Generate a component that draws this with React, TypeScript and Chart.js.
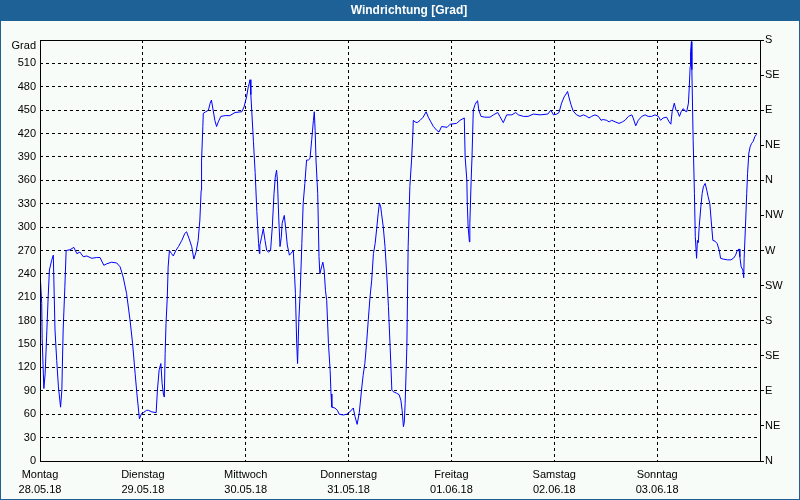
import React, { useEffect, useRef } from "react";
import { Chart, registerables } from "chart.js";

Chart.register(...registerables);

const TITLE = "Windrichtung [Grad]";
const UNIT_LABEL = "Grad";
const dayNames = ["Montag", "Dienstag", "Mittwoch", "Donnerstag", "Freitag", "Samstag", "Sonntag"];
const dayDates = ["28.05.18", "29.05.18", "30.05.18", "31.05.18", "01.06.18", "02.06.18", "03.06.18"];
const compassLabels = ["N", "NE", "E", "SE", "S", "SW", "W", "NW", "N", "NE", "E", "SE", "S"];

// hours since Monday 28.05.18 00:00
const hours = [
  0.0, 0.4, 0.5, 0.9, 1.2, 1.6, 1.9, 2.2, 2.7, 3.1, 3.5, 3.9, 4.3, 4.8, 5.1, 5.4, 5.8, 6.1, 7.0, 7.9,
  8.6, 9.3, 10.1, 10.9, 12.1, 13.2, 14.0, 14.9, 15.6, 16.7, 17.9, 18.7, 19.4, 20.2, 21.0, 21.6, 22.2, 22.6, 23.2, 23.7,
  24.1, 24.9, 25.3, 26.1, 27.1, 27.4, 27.8, 28.2, 28.5, 28.8, 29.0, 29.2, 29.4, 29.7, 29.9, 30.2, 30.7, 31.1, 31.7, 32.3,
  33.1, 33.8, 34.2, 34.8, 35.4, 35.9, 36.4, 36.9, 37.3, 37.6, 37.7, 38.0, 38.1, 38.7, 39.3, 39.7, 40.0, 40.4, 40.8, 41.2,
  41.6, 42.2, 43.2, 44.3, 45.5, 47.1, 47.6, 48.2, 48.6, 48.8, 49.0, 49.2, 49.4, 49.8, 50.2, 50.6, 51.0, 51.2, 51.3, 51.7,
  52.1, 52.5, 52.9, 53.3, 53.8, 54.2, 54.6, 54.9, 55.2, 55.4, 55.7, 56.0, 56.3, 56.5, 57.0, 57.3, 57.7, 58.2, 58.5, 59.1,
  59.3, 59.6, 59.9, 60.1, 60.4, 60.7, 61.1, 61.4, 61.8, 62.2, 62.6, 63.0, 63.4, 63.8, 64.0, 64.2, 64.4, 64.8, 65.1, 65.3,
  65.7, 66.0, 66.3, 66.6, 66.9, 67.3, 67.7, 67.9, 68.1, 68.8, 69.4, 69.8, 70.8, 71.6, 72.3, 73.1, 73.5, 74.0, 74.5, 75.1,
  75.4, 75.8, 76.2, 76.6, 77.0, 77.4, 77.8, 78.2, 78.6, 78.9, 79.2, 79.5, 79.7, 80.1, 80.5, 80.9, 81.3, 81.7, 82.1, 82.4,
  83.2, 83.8, 84.2, 84.5, 84.8, 85.0, 85.2, 85.6, 85.9, 86.3, 86.7, 87.0, 87.1, 87.5, 88.0, 88.7, 89.4, 90.1, 90.6, 91.2,
  91.8, 92.6, 93.1, 93.7, 95.0, 95.7, 97.2, 98.0, 99.0, 99.2, 99.6, 99.7, 99.9, 100.2, 100.3, 100.6, 100.8, 101.1, 101.5, 101.9,
  102.1, 102.4, 102.9, 103.8, 105.0, 105.8, 106.8, 107.3, 108.1, 108.9, 110.1, 111.0, 111.6, 112.8, 113.9, 115.1, 116.7, 118.5, 119.2, 119.8,
  120.6, 121.1, 121.7, 122.3, 122.9, 123.1, 123.4, 123.9, 124.4, 125.2, 126.0, 126.8, 127.6, 128.1, 128.7, 129.5, 130.3, 130.9, 131.4, 132.2,
  132.8, 133.4, 134.2, 135.1, 135.9, 136.5, 137.3, 138.1, 138.4, 139.0, 139.6, 140.4, 141.2, 141.9, 142.7, 143.5, 144.3, 144.8, 145.4, 146.2,
  146.8, 147.2, 147.5, 148.0, 148.4, 148.8, 149.2, 149.6, 150.1, 150.5, 150.9, 151.3, 151.5, 151.7, 151.8, 152.0, 152.1, 152.4, 152.7, 152.9,
  153.2, 153.4, 153.6, 153.8, 154.2, 154.5, 154.8, 155.2, 155.6, 155.9, 156.3, 156.6, 157.0, 157.5, 158.0, 158.5, 158.8, 159.4, 160.4, 161.2,
  161.8, 162.3, 162.7, 163.1, 163.3, 163.6, 164.0, 164.2, 164.3, 164.6, 164.9, 165.1, 165.4, 165.7, 166.0, 166.4, 166.8, 167.2,
];

const degrees = [
  243, 202, 157, 93, 112, 167, 210, 245, 257, 264, 168, 129, 95, 69, 91, 168, 223, 270, 271, 274,
  266, 268, 262, 263, 260, 261, 261, 251, 253, 255, 254, 249, 236, 215, 181, 151, 112, 87, 54, 61,
  62, 65, 65, 63, 62, 91, 117, 125, 99, 86, 82, 138, 176, 210, 249, 270, 266, 263, 270, 275,
  283, 292, 294, 285, 275, 259, 268, 283, 309, 347, 386, 429, 446, 448, 450, 459, 463, 450, 437, 429,
  435, 442, 443, 443, 447, 448, 454, 467, 480, 484, 489, 470, 450, 410, 370, 320, 279, 266, 277, 287,
  298, 283, 270, 268, 270, 300, 343, 364, 373, 360, 313, 275, 287, 305, 315, 300, 277, 264, 266, 270,
  249, 215, 151, 125, 181, 215, 279, 330, 356, 386, 386, 388, 412, 437, 448, 424, 386, 343, 262, 240,
  249, 255, 245, 219, 206, 151, 116, 86, 69, 68, 65, 60, 59, 60, 63, 68, 57, 47, 62, 95,
  110, 125, 151, 181, 210, 232, 266, 279, 300, 317, 331, 326, 317, 300, 275, 240, 198, 146, 91, 89,
  87, 85, 78, 65, 44, 50, 74, 146, 275, 352, 386, 420, 437, 435, 434, 437, 441, 448, 441, 435,
  429, 424, 422, 429, 428, 432, 433, 437, 440, 390, 360, 330, 300, 281, 305, 360, 390, 450, 457, 461,
  462, 450, 442, 441, 441, 444, 447, 442, 434, 444, 444, 447, 444, 442, 442, 445, 444, 445, 450, 444,
  445, 447, 459, 467, 472, 474, 467, 457, 449, 444, 442, 444, 442, 440, 442, 444, 442, 437, 438, 437,
  435, 437, 435, 433, 435, 437, 442, 444, 440, 430, 437, 442, 444, 442, 442, 444, 442, 437, 440, 441,
  435, 432, 448, 459, 450, 448, 442, 448, 452, 449, 448, 459, 480, 506, 525, 538, 502, 412, 343, 288,
  260, 283, 280, 300, 326, 343, 352, 356, 347, 339, 330, 309, 283, 282, 279, 270, 260, 259, 258, 258,
  260, 264, 270, 272, 262, 249, 245, 235, 260, 300, 343, 369, 395, 403, 407, 410, 416, 419,
];

const FONT_FAMILY = '"Liberation Sans", Arial, sans-serif';
const BG = "#f8fcf8";
const BAR = "#1e6196";

const framePlugin = {
  id: "framePlugin",
  beforeDraw(chart: any) {
    const ctx = chart.ctx;
    const w = chart.width;
    const h = chart.height;
    ctx.save();
    ctx.fillStyle = BG;
    ctx.fillRect(0, 0, w, h);
    ctx.fillStyle = BAR;
    ctx.fillRect(0, 0, w, 21);
    ctx.fillRect(0, 0, 1, h);
    ctx.fillRect(w - 1, 0, 1, h);
    ctx.fillRect(0, h - 1, w, 1);
    ctx.fillStyle = "#ffffff";
    ctx.font = "bold 12px " + FONT_FAMILY;
    ctx.textAlign = "center";
    ctx.textBaseline = "middle";
    ctx.fillText(TITLE, 409, 11);
    ctx.restore();
  },
  afterDraw(chart: any) {
    const ctx = chart.ctx;
    const { left, top, right, bottom } = chart.chartArea;
    ctx.save();
    ctx.strokeStyle = "#000000";
    ctx.lineWidth = 1;
    ctx.setLineDash([]);
    ctx.strokeRect(Math.round(left) + 0.5, Math.round(top) + 0.5, Math.round(right - left), Math.round(bottom - top));
    // unit label at the top of the left axis
    ctx.fillStyle = "#000000";
    ctx.font = "11px " + FONT_FAMILY;
    ctx.textAlign = "right";
    ctx.textBaseline = "middle";
    ctx.fillText(UNIT_LABEL, left - 4, top + 6);
    ctx.restore();
  },
};

export default function App() {
  const ref = useRef<HTMLCanvasElement | null>(null);

  useEffect(() => {
    if (!ref.current) return;
    const points = hours.map((h, i) => ({ x: h, y: degrees[i] }));
    const tickFont = { family: FONT_FAMILY, size: 11 };
    const chart = new Chart(ref.current, {
      type: "line",
      data: {
        datasets: [
          {
            data: points,
            borderColor: "#0000ff",
            borderWidth: 1,
            pointRadius: 0,
            tension: 0,
            fill: false,
          },
        ],
      },
      options: {
        animation: false,
        responsive: false,
        maintainAspectRatio: false,
        layout: { padding: { top: 40, left: 0, right: 0, bottom: 0 } },
        plugins: {
          legend: { display: false },
          title: { display: false },
          tooltip: { enabled: false },
        },
        scales: {
          x: {
            type: "linear",
            min: 0,
            max: 168,
            afterFit: (s: any) => {
              s.height = 39;
            },
            grid: { color: "#000000", lineWidth: 1, drawTicks: false },
            border: { display: false, dash: [3, 3] },
            ticks: {
              stepSize: 24,
              autoSkip: false,
              maxRotation: 0,
              padding: 6,
              color: "#000000",
              font: { ...tickFont, lineHeight: "15px" },
              callback: (v: any) => {
                const i = Math.round(Number(v) / 24);
                return i < dayNames.length ? [dayNames[i], dayDates[i]] : "";
              },
            },
          },
          y: {
            position: "left",
            min: 0,
            max: 540,
            afterFit: (s: any) => {
              s.width = 40;
            },
            grid: { color: "#000000", lineWidth: 1, drawTicks: false },
            border: { display: false, dash: [3, 3] },
            ticks: {
              stepSize: 30,
              padding: 4,
              color: "#000000",
              font: tickFont,
              callback: (v: any) => (Number(v) === 540 ? "" : String(v)),
            },
          },
          y1: {
            position: "right",
            min: 0,
            max: 540,
            afterFit: (s: any) => {
              s.width = 40;
            },
            grid: { drawOnChartArea: false, drawTicks: true, tickLength: 4, color: "#000000" },
            border: { display: false },
            ticks: {
              stepSize: 45,
              padding: 1,
              color: "#000000",
              font: tickFont,
              callback: (v: any) => compassLabels[Math.round(Number(v) / 45)],
            },
          },
        },
      },
      plugins: [framePlugin],
    } as any);
    return () => chart.destroy();
  }, []);

  return (
    <div style={{ position: "fixed", left: 0, top: 0, width: 800, height: 500 }}>
      <canvas ref={ref} width={800} height={500} style={{ width: 800, height: 500, display: "block" }} />
    </div>
  );
}
